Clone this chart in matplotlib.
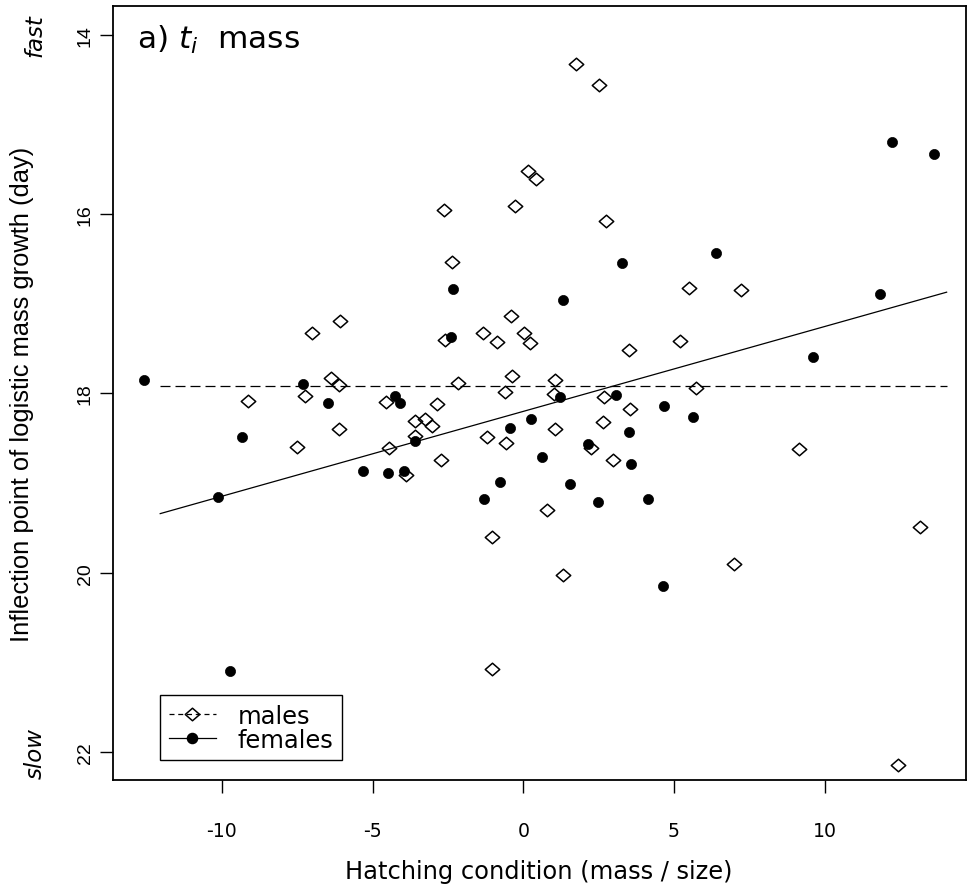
import matplotlib
matplotlib.use("Agg")
import matplotlib.pyplot as plt
from matplotlib.lines import Line2D
from matplotlib.path import Path
import matplotlib.transforms as mtransforms
import numpy as np

# ---------------- data ----------------
male_x = [1.76, 2.51, 0.15, 0.43, -2.63, -0.28, 2.73, -2.36, 5.51, 7.23,
          -7.01, -6.08, -6.39, -6.13, -9.13, -7.26, -4.56, -6.13, -7.50, -3.58,
          -3.25, -3.03, -3.58, -4.45, -3.89, -2.60, -1.35, -0.87, -0.41, 0.02,
          0.21, 3.50, 5.21, -2.17, -0.38, 1.06, -0.61, 1.03, 2.67, 5.74,
          -2.86, 3.55, 2.66, 1.06, -1.19, -0.58, 2.25, -2.73, 2.98, 0.79,
          -1.05, 1.32, -1.05, 6.98, 9.15, 13.17, 12.45]
male_y = [14.33, 14.56, 15.52, 15.61, 15.96, 15.91, 16.08, 16.53, 16.82, 16.85,
          17.33, 17.19, 17.83, 17.91, 18.08, 18.03, 18.09, 18.40, 18.60, 18.31,
          18.28, 18.36, 18.47, 18.61, 18.91, 17.40, 17.33, 17.43, 17.14, 17.33,
          17.44, 17.52, 17.42, 17.88, 17.80, 17.85, 17.98, 18.01, 18.04, 17.94,
          18.12, 18.17, 18.32, 18.40, 18.49, 18.55, 18.61, 18.74, 18.74, 19.30,
          19.60, 20.02, 21.07, 19.90, 18.62, 19.49, 22.14]

female_x = [3.27, -2.33, 12.24, 13.64, 6.40, 11.85, 1.32, -12.58, -7.31, -6.48,
            -4.25, -4.09, -9.35, -3.60, -5.31, -4.49, -3.96, -10.14, -2.39, 1.22,
            3.08, 4.68, 5.64, 0.25, -0.43, 3.51, 2.16, 0.63, 3.56, -0.78,
            1.56, -1.31, 2.49, 4.15, 9.60, -9.74, 4.64]
female_y = [16.55, 16.84, 15.20, 15.33, 16.43, 16.89, 16.96, 17.85, 17.89, 18.11,
            18.03, 18.11, 18.49, 18.53, 18.86, 18.89, 18.86, 19.16, 17.37, 18.04,
            18.02, 18.14, 18.26, 18.28, 18.38, 18.43, 18.56, 18.71, 18.79, 18.99,
            19.01, 19.18, 19.21, 19.18, 17.59, 21.10, 20.15]

# fitted lines
male_mean = 17.92          # males: flat (dashed)
female_intercept = 18.20   # females: regression (solid)
female_slope = -0.0946
line_range = [-12.05, 14.05]

x_ticks = [-10, -5, 0, 5, 10]
y_ticks = [14, 16, 18, 20, 22]
x_label = "Hatching condition (mass / size)"
y_label = "Inflection point of logistic mass growth (day)"
legend_labels = ["males", "females"]

# ---------------- figure ----------------
W, H = 970, 895
fig = plt.figure(figsize=(W / 100, H / 100), dpi=100)
ax_l, ax_r, ax_t, ax_b = 112.6, 965.9, 7.0, 781.0
ax = fig.add_axes([ax_l / W, 1 - ax_b / H, (ax_r - ax_l) / W, (ax_b - ax_t) / H])

ax.set_xlim(-13.63, 14.69)
ax.set_ylim(22.31, 13.68)

arial = ["Liberation Sans", "DejaVu Sans"]
wide = ["DejaVu Sans"]

diamond = Path([(-1.15, 0), (0, 1), (1.15, 0), (0, -1), (-1.15, 0)],
               [Path.MOVETO, Path.LINETO, Path.LINETO, Path.LINETO, Path.CLOSEPOLY])

lx = np.array(line_range)
ax.plot(lx, [male_mean, male_mean], color="black", lw=0.9, ls=(0, (8, 4)))
ax.plot(lx, female_intercept + female_slope * lx, color="black", lw=0.9, ls="-")

ax.plot(female_x, female_y, ls="none", marker="o", ms=7.3, mfc="black", mec="black", mew=0.5)
ax.plot(male_x, male_y, ls="none", marker=diamond, ms=10.4, mfc="none", mec="black", mew=1.1)

for s in ax.spines.values():
    s.set_linewidth(1.3)

ax.set_xticks(x_ticks)
ax.set_xticklabels([str(v) for v in x_ticks], fontfamily=wide, fontsize=13.6)
ax.set_yticks(y_ticks)
ax.set_yticklabels([str(v) for v in y_ticks], fontfamily=arial, fontsize=14,
                   rotation=90, va="center")
ax.tick_params(axis="x", direction="out", length=9.4, width=1.0, pad=20)
ax.tick_params(axis="y", direction="out", length=9.4, width=1.0, pad=4)

ax.set_xlabel(x_label, fontfamily=wide, fontsize=17.4)
ax.xaxis.set_label_coords(0.5, (ax_b - 872) / (ax_b - ax_t))
ax.xaxis.label.set_va("center")
ax.set_ylabel(y_label, fontfamily=arial, fontsize=18.4)
ax.yaxis.set_label_coords((22 - ax_l) / (ax_r - ax_l), 0.5)
ax.yaxis.label.set_va("center")

# fast / slow annotations
tr = mtransforms.blended_transform_factory(fig.transFigure, ax.transData)
ax.text(35 / W, 14, "fast", transform=tr, rotation=90, ha="center", va="center",
        fontfamily=wide, fontstyle="italic", fontsize=16.5)
ax.text(35 / W, 22, "slow", transform=tr, rotation=90, ha="center", va="center",
        fontfamily=wide, fontstyle="italic", fontsize=16.5)

# panel title
ax.text((137 - ax_l) / (ax_r - ax_l), (ax_b - 49) / (ax_b - ax_t), r"a) $t_i$  mass",
        transform=ax.transAxes, ha="left", va="baseline", fontfamily=wide, fontsize=22.5)

handles = [
    Line2D([], [], color="black", lw=0.9, ls=(0, (4, 3)), marker=diamond, ms=10.4,
           mfc="none", mec="black", mew=1.1),
    Line2D([], [], color="black", lw=0.9, ls="-", marker="o", ms=7.3, mfc="black", mec="black"),
]
leg = ax.legend(handles, legend_labels, loc="lower left",
                bbox_to_anchor=((160.3 - ax_l) / (ax_r - ax_l), (ax_b - 761.3) / (ax_b - ax_t)),
                borderaxespad=0, prop={"family": wide, "size": 17.4},
                frameon=True, fancybox=False, framealpha=1, edgecolor="black",
                handlelength=1.95, handletextpad=0.9, labelspacing=0.0, borderpad=0.35)
leg.get_frame().set_linewidth(1.0)

fig.savefig("out.png", dpi=100, facecolor="white")
